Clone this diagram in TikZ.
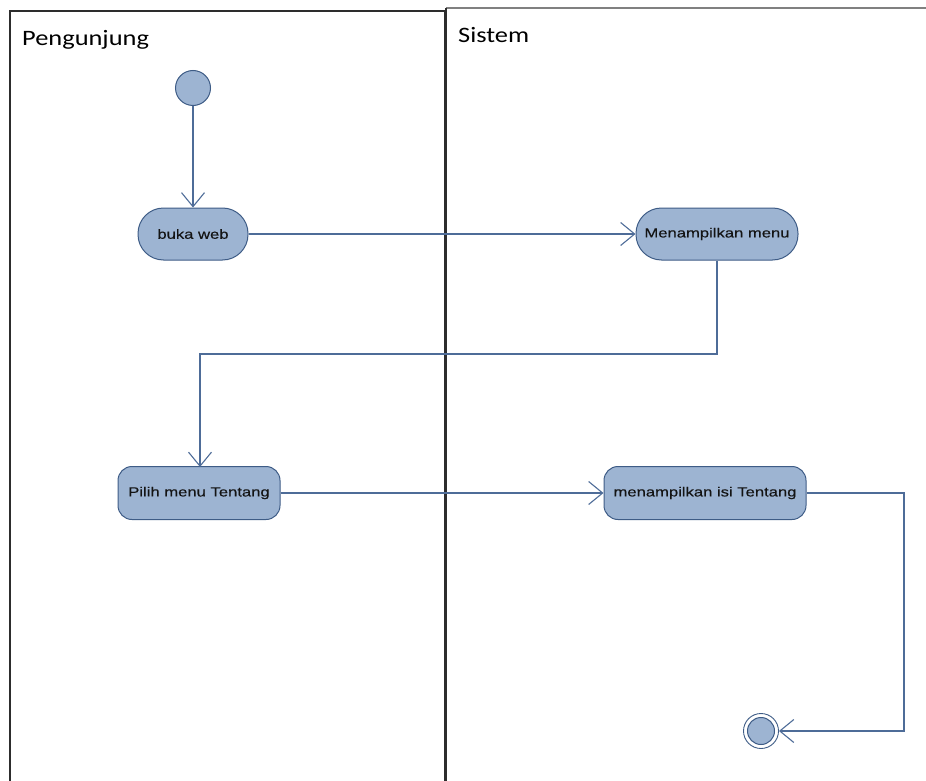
\documentclass[tikz,border=0pt]{standalone}
\usepackage{fontspec}
\usetikzlibrary{arrows.meta}
\newfontfamily\lanefont[FakeStretch=1.2]{Carlito}
\newfontfamily\actfont[FakeStretch=1.25,FakeBold=0.3]{Liberation Sans}
\definecolor{actfill}{RGB}{157,180,210}
\definecolor{actdraw}{RGB}{62,92,134}
\definecolor{flowline}{RGB}{78,108,152}
\definecolor{lanedark}{RGB}{45,45,45}
\definecolor{lanegray}{RGB}{128,128,128}
\tikzset{
  x=1pt, y=-1pt,
  lane/.style={draw=lanedark, line width=1.5pt},
  lanetitle/.style={anchor=base west, inner sep=0pt, font=\lanefont\fontsize{22}{24}\selectfont},
  actbase/.style={rectangle, draw=actdraw, fill=actfill, line width=1pt, inner sep=0pt,
    text=black!92, font=\actfont\fontsize{13.3}{15}\selectfont},
  pill/.style={actbase, rounded corners=25.5pt, minimum height=52pt},
  roundbox/.style={actbase, rounded corners=14pt, minimum height=53pt},
  initstate/.style={circle, draw=actdraw, fill=actfill, line width=1pt, minimum size=35pt, inner sep=0pt},
  endring/.style={circle, draw=actdraw, line width=0.9pt, minimum size=35pt, inner sep=0pt},
  endcore/.style={circle, draw=actdraw, fill=actfill, line width=1pt, minimum size=27pt, inner sep=0pt},
  flow/.style={draw=flowline, line width=1.1pt,
    -{Straight Barb[length=14pt, width=23pt, line width=1.1pt]}},
}
\begin{document}
\begin{tikzpicture}
\useasboundingbox (0,0) rectangle (926,781);

% swimlanes
\draw[lane] (10,781) -- (10,11) -- (445,11) -- (445,781);
\draw[draw=lanegray, line width=2.4pt] (446,8) -- (926,8);
\draw[lane] (446,8) -- (446,781);
\node[lanetitle] (lanePeng) at (22,46) {Pengunjung};
\node[lanetitle] (laneSis) at (458,43) {Sistem};

% initial and final states
\node[initstate] (start) at (193,88) {};
\node[endring] (endout) at (761,731) {};
\node[endcore] (end) at (761,731) {};

% activities
\node[pill, minimum width=110pt] (buka) at (193,234) {buka web};
\node[pill, minimum width=162pt] (tampil) at (717,234) {Menampilkan menu};
\node[roundbox, minimum width=162pt] (pilih) at (199,493) {Pilih menu Tentang};
\node[roundbox, minimum width=202pt] (isi) at (705,493) {menampilkan isi Tentang};

% control flows
\draw[flow] (start) -- (buka);
\draw[flow] (buka) -- (tampil);
\draw[flow] (tampil.south) -- (717,354) -- (200,354) -- (200,467);
\draw[flow] (pilih) -- (isi);
\draw[flow] (isi.east) -- (904,493) -- (904,731) -- (endout.east);
\end{tikzpicture}
\end{document}
